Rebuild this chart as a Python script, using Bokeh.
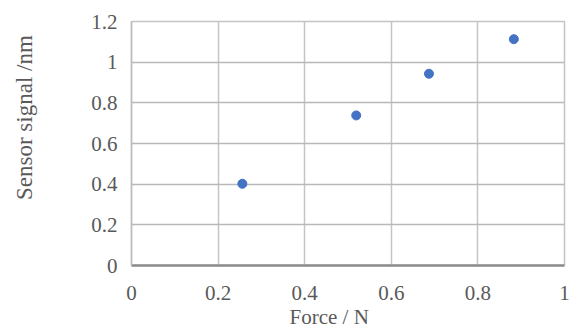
from bokeh.plotting import figure
from bokeh.models import Range1d, FixedTicker, ColumnDataSource, Title
from bokeh.embed import file_html
from bokeh.resources import INLINE

force = [0.256, 0.519, 0.687, 0.883]
signal = [0.402, 0.738, 0.943, 1.113]

x_ticks = [0, 0.2, 0.4, 0.6, 0.8, 1.0]
x_tick_labels = ["0", "0.2", "0.4", "0.6", "0.8", "1"]
y_ticks = [0, 0.2, 0.4, 0.6, 0.8, 1.0, 1.2]
y_tick_labels = ["0", "0.2", "0.4", "0.6", "0.8", "1", "1.2"]
x_title = "Force / N"
y_title = "Sensor signal /nm"

FONT = "'Liberation Serif', serif"
TXT = "#595959"
NBSP = "\u00a0"

p = figure(width=573, height=332, output_backend="svg", toolbar_location=None,
           x_range=Range1d(0, 1), y_range=Range1d(0, 1.2),
           min_border_left=131, min_border_right=9, min_border_top=21, min_border_bottom=67)

src = ColumnDataSource(dict(x=force, y=signal))
p.scatter("x", "y", source=src, size=9, color="#4472C4", line_color="#4472C4")

p.xaxis.ticker = FixedTicker(ticks=x_ticks)
p.yaxis.ticker = FixedTicker(ticks=y_ticks)
p.xaxis.major_label_overrides = {t: l for t, l in zip(x_ticks, x_tick_labels)}
p.yaxis.major_label_overrides = {t: l for t, l in zip(y_ticks, y_tick_labels)}

for ax in (p.xaxis, p.yaxis):
    ax.major_tick_out = 0
    ax.major_tick_in = 0
    ax.minor_tick_out = 0
    ax.minor_tick_in = 0
    ax.major_label_text_font = FONT
    ax.major_label_text_font_size = "21px"
    ax.major_label_text_color = TXT

p.xaxis.axis_line_color = "#8c8c8c"
p.xaxis.axis_line_width = 2.5
p.yaxis.axis_line_color = "#bfbfbf"
p.yaxis.axis_line_width = 1.5
p.xaxis.major_label_standoff = 20
p.yaxis.major_label_standoff = 14

# x title: left-aligned with an offset so it sits left of the frame centre
p.add_layout(Title(text=x_title, align="left", offset=158, standoff=1,
                   text_font=FONT, text_font_size="21px", text_font_style="normal",
                   text_color=TXT), "below")

# y title: axis label, shifted upward with leading no-break spaces
p.yaxis.axis_label = NBSP * 9 + y_title
p.yaxis.axis_label_text_font = FONT
p.yaxis.axis_label_text_font_size = "23px"
p.yaxis.axis_label_text_font_style = "normal"
p.yaxis.axis_label_text_color = TXT
p.yaxis.axis_label_standoff = 51

p.xgrid.grid_line_color = "#c4c4c4"
p.xgrid.grid_line_width = 1.5
p.ygrid.grid_line_color = "#b8b8b8"
p.ygrid.grid_line_width = 1.5
p.outline_line_color = "#c4c4c4"
p.outline_line_width = 1.5
p.background_fill_color = "white"
p.border_fill_color = "white"

open("out.html", "w").write(file_html(p, INLINE))
